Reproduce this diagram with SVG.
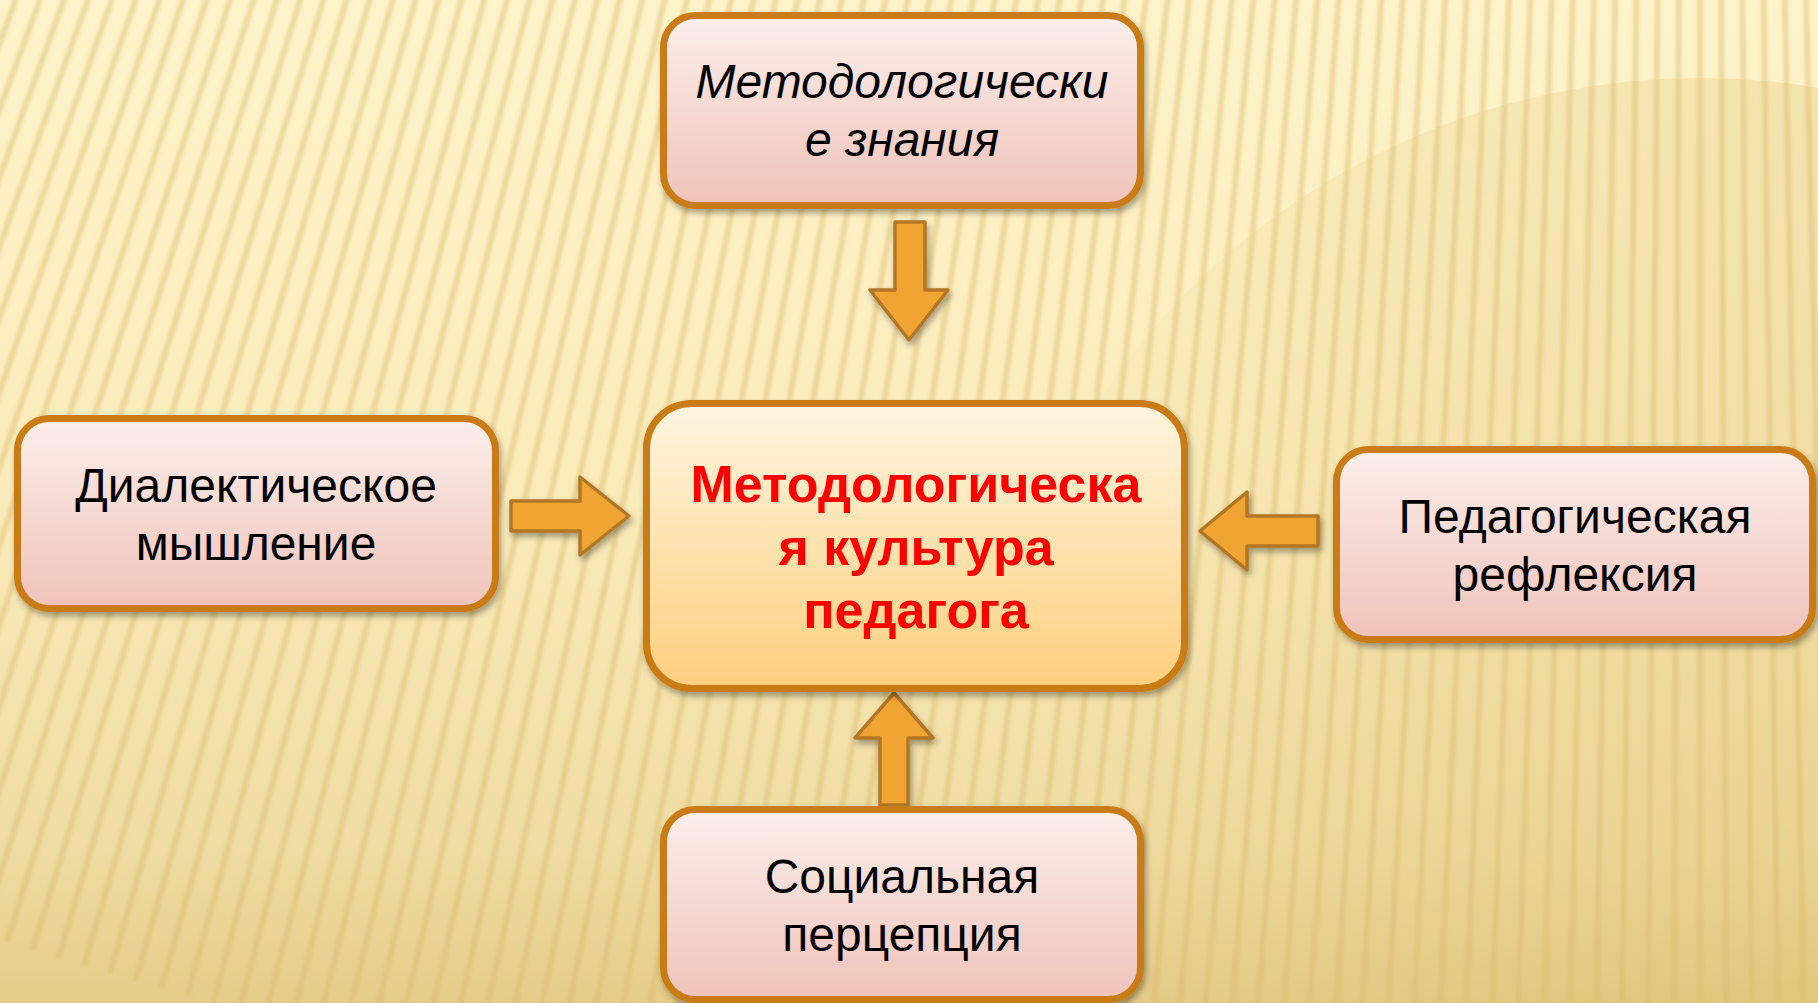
<svg xmlns="http://www.w3.org/2000/svg" xmlns:xlink="http://www.w3.org/1999/xlink" width="1818" height="1003" viewBox="0 0 1818 1003">
<defs>
<linearGradient id="bg" x1="0" y1="0" x2="0" y2="1">
<stop offset="0" stop-color="#FEF3CA"/>
<stop offset="0.5" stop-color="#FBEBBA"/>
<stop offset="0.85" stop-color="#EFDCA2"/>
<stop offset="1" stop-color="#E4CC8A"/>
</linearGradient>
<linearGradient id="disc" x1="1000" y1="0" x2="1818" y2="0" gradientUnits="userSpaceOnUse">
<stop offset="0" stop-color="#D6B45C" stop-opacity="0"/>
<stop offset="0.4" stop-color="#D6B45C" stop-opacity="0.12"/>
<stop offset="1" stop-color="#D6B45C" stop-opacity="0.24"/>
</linearGradient>
<linearGradient id="pink" x1="0" y1="0" x2="0" y2="1">
<stop offset="0" stop-color="#FCEEEA"/>
<stop offset="1" stop-color="#EFC3BA"/>
</linearGradient>
<linearGradient id="gold" x1="0" y1="0" x2="0" y2="1">
<stop offset="0" stop-color="#FFF5E0"/>
<stop offset="1" stop-color="#FDCF7E"/>
</linearGradient>
<filter id="shadow" x="-10%" y="-10%" width="120%" height="130%">
<feDropShadow dx="2" dy="4" stdDeviation="3" flood-color="#000" flood-opacity="0.35"/>
</filter>
<filter id="soft" x="-5%" y="-5%" width="110%" height="110%">
<feGaussianBlur stdDeviation="1.6"/>
</filter>
<g id="ray8">
<line x1="1700" y1="-4500" x2="1700" y2="1200"/>
<line x1="1700" y1="-4500" x2="1700" y2="1200" transform="rotate(0.27 1700 -4500)"/>
<line x1="1700" y1="-4500" x2="1700" y2="1200" transform="rotate(0.54 1700 -4500)"/>
<line x1="1700" y1="-4500" x2="1700" y2="1200" transform="rotate(0.81 1700 -4500)"/>
<line x1="1700" y1="-4500" x2="1700" y2="1200" transform="rotate(1.08 1700 -4500)"/>
<line x1="1700" y1="-4500" x2="1700" y2="1200" transform="rotate(1.35 1700 -4500)"/>
<line x1="1700" y1="-4500" x2="1700" y2="1200" transform="rotate(1.62 1700 -4500)"/>
<line x1="1700" y1="-4500" x2="1700" y2="1200" transform="rotate(1.89 1700 -4500)"/>
</g>
</defs>
<style>
.box{stroke:#C97B12;stroke-width:7;filter:url(#shadow)}
.side{fill:url(#pink)}
.core{fill:url(#gold)}
.arrow{fill:#F0A532;stroke:#B27726;stroke-width:3.5;stroke-linejoin:round;filter:url(#shadow)}
.t{font-family:"Liberation Sans",Arial,sans-serif;font-size:48px;fill:#000;text-anchor:middle}
.it{font-style:italic}
.c{font-family:"Liberation Sans",Arial,sans-serif;font-size:52px;font-weight:bold;fill:#FF0000;text-anchor:middle}
</style>
<g id="background">
<rect width="1818" height="1003" fill="url(#bg)"/>
<circle cx="1700" cy="800" r="722" fill="url(#disc)"/>
<g stroke="#DABB68" stroke-width="6" stroke-opacity="0.42" filter="url(#soft)">
<use xlink:href="#ray8" transform="rotate(-2.7 1700 -4500)"/>
<use xlink:href="#ray8" transform="rotate(-0.54 1700 -4500)"/>
<use xlink:href="#ray8" transform="rotate(1.62 1700 -4500)"/>
<use xlink:href="#ray8" transform="rotate(3.78 1700 -4500)"/>
<use xlink:href="#ray8" transform="rotate(5.94 1700 -4500)"/>
<use xlink:href="#ray8" transform="rotate(8.1 1700 -4500)"/>
<use xlink:href="#ray8" transform="rotate(10.26 1700 -4500)"/>
<use xlink:href="#ray8" transform="rotate(12.42 1700 -4500)"/>
<use xlink:href="#ray8" transform="rotate(14.58 1700 -4500)"/>
<use xlink:href="#ray8" transform="rotate(16.74 1700 -4500)"/>
<use xlink:href="#ray8" transform="rotate(18.9 1700 -4500)"/>
<use xlink:href="#ray8" transform="rotate(21.06 1700 -4500)"/>
</g>
</g>
<g id="connectors">
<path class="arrow" d="M895,222 H925 V290 H948 L909,340 L870,290 H895 Z"/>
<path class="arrow" d="M511,501 H580 V477 L629,516 L580,555 V531 H511 Z"/>
<path class="arrow" d="M1318,516 H1247 V492 L1200,531 L1247,570 V546 H1318 Z"/>
<path class="arrow" d="M880,805 V738 H855 L894,693 L933,738 H908 V805 Z"/>
</g>
<g id="node-top">
<rect class="box side" x="663.5" y="15.5" width="477" height="190" rx="32"/>
<text class="t it" x="902" y="98">Методологически</text>
<text class="t it" x="902" y="156">е знания</text>
</g>
<g id="node-left">
<rect class="box side" x="17.5" y="418.5" width="478" height="190" rx="32"/>
<text class="t" x="256" y="502">Диалектическое</text>
<text class="t" x="256" y="560">мышление</text>
</g>
<g id="node-center">
<rect class="box core" x="646.5" y="403.5" width="538" height="285" rx="45"/>
<text class="c" x="916" y="502">Методологическа</text>
<text class="c" x="916" y="565">я культура</text>
<text class="c" x="916" y="628">педагога</text>
</g>
<g id="node-right">
<rect class="box side" x="1336.5" y="449.5" width="476" height="190" rx="32"/>
<text class="t" x="1575" y="533">Педагогическая</text>
<text class="t" x="1575" y="591">рефлексия</text>
</g>
<g id="node-bottom">
<rect class="box side" x="663.5" y="809.5" width="477" height="190" rx="32"/>
<text class="t" x="902" y="893">Социальная</text>
<text class="t" x="902" y="951">перцепция</text>
</g>
</svg>
